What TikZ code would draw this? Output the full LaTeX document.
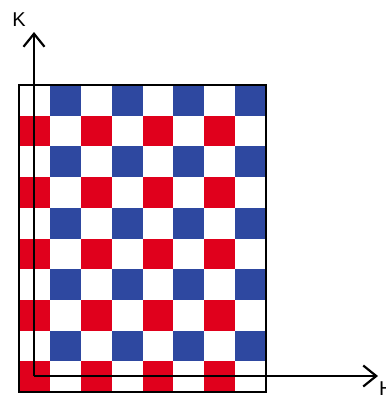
\documentclass[tikz,border=0pt]{standalone}
\usepackage{fontspec}
\setmainfont{Liberation Sans}
\usetikzlibrary{arrows.meta}
\definecolor{cellblue}{RGB}{46,72,160}
\definecolor{cellred}{RGB}{224,0,28}
\begin{document}
\begin{tikzpicture}[x=1pt,y=-1pt,
  bluecell/.style={fill=cellblue},
  redcell/.style={fill=cellred},
  axisline/.style={line width=2.2pt,-{Straight Barb[length=13pt,width=21pt,line width=2.2pt]}},
  axislabel/.style={font=\fontsize{20}{20}\selectfont,inner sep=0pt}]
\useasboundingbox (0,0) rectangle (386,397);
\fill[white] (0,0) rectangle (386,397);
\def\cw{30.875}
\def\rh{30.7}
\foreach \r in {0,...,9}{
  \foreach \c in {0,...,7}{
    \pgfmathtruncatemacro{\odd}{mod(\r,2)}
    \pgfmathtruncatemacro{\codd}{mod(\c,2)}
    \ifnum\odd=0
      \ifnum\codd=1
        \fill[bluecell] ({19+\c*\cw},{85+\r*\rh}) rectangle ++(\cw,\rh);
      \fi
    \else
      \ifnum\codd=0
        \fill[redcell] ({19+\c*\cw},{85+\r*\rh}) rectangle ++(\cw,\rh);
      \fi
    \fi
  }
}
\draw[line width=1.6pt] (19,85) rectangle (266,392);
\coordinate (origin) at (34,376);
\coordinate (ktip) at (34,32);
\coordinate (htip) at (378,376);
\draw[axisline] (origin) -- (ktip);
\draw[axisline] (origin) -- (htip);
\node[axislabel] (klabel) at (19,20) {K};
\node[axislabel,anchor=west] (hlabel) at (379,389) {H};
\end{tikzpicture}
\end{document}
